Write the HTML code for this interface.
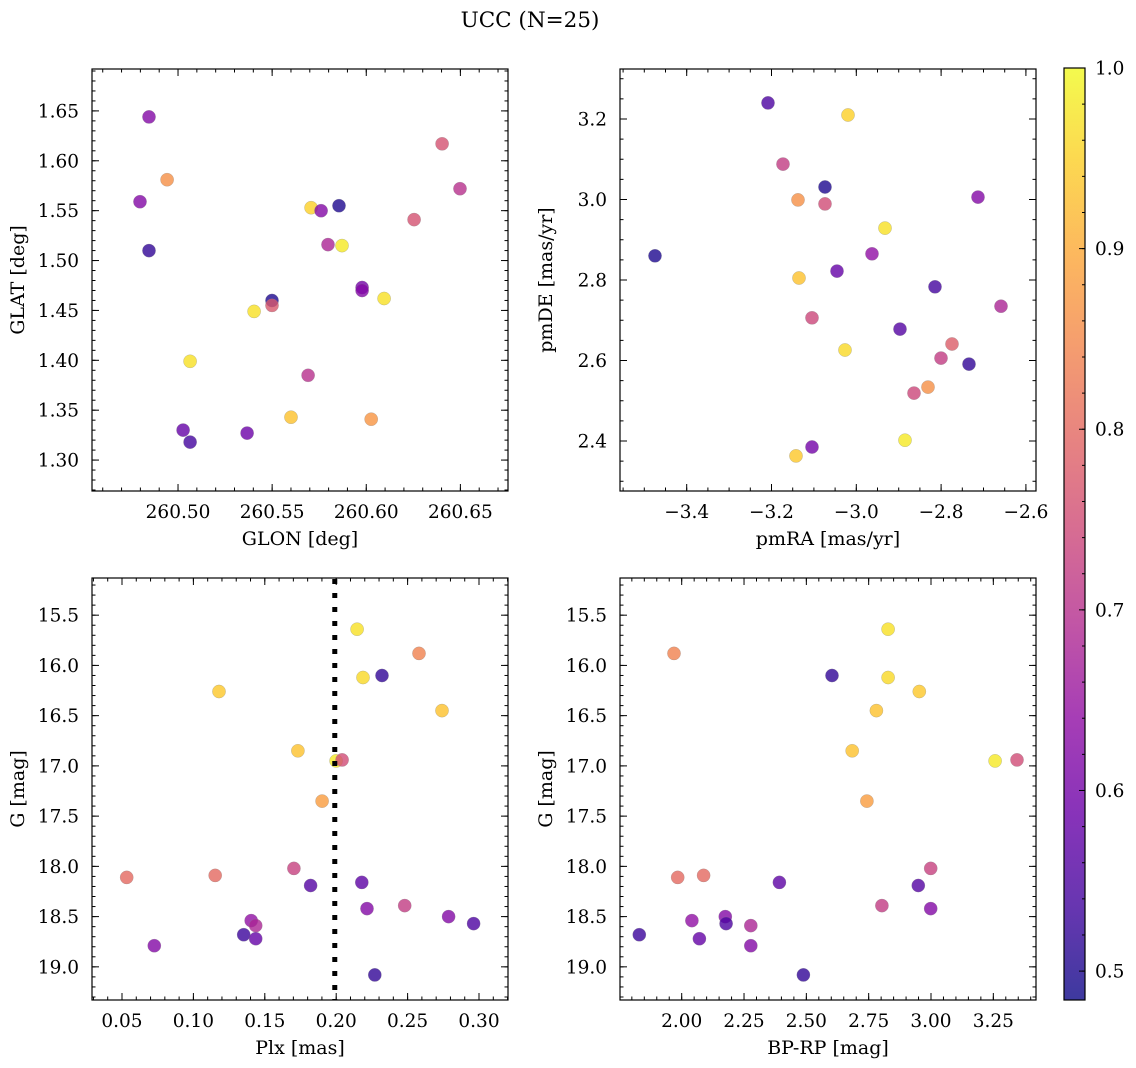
<!DOCTYPE html>
<html><head><meta charset="utf-8"><style>
html,body{margin:0;padding:0;background:#fff;}
svg{display:block;font-family:"DejaVu Serif","Liberation Serif",serif;}
</style></head><body>
<svg id="fig" width="1136" height="1068" viewBox="0 0 1136 1068" xmlns="http://www.w3.org/2000/svg">
<defs>
<linearGradient id="cbgrad" x1="0" y1="1" x2="0" y2="0">
<stop offset="0" stop-color="#0d0887"/><stop offset="0.1" stop-color="#41049d"/><stop offset="0.2" stop-color="#6a00a8"/><stop offset="0.3" stop-color="#8f0da4"/><stop offset="0.4" stop-color="#b12a90"/><stop offset="0.5" stop-color="#cc4778"/><stop offset="0.6" stop-color="#e16462"/><stop offset="0.7" stop-color="#f2844b"/><stop offset="0.8" stop-color="#fca636"/><stop offset="0.9" stop-color="#fcce25"/><stop offset="1" stop-color="#f0f921"/>
</linearGradient>
</defs>
<text x="530" y="27" font-size="21.5" text-anchor="middle" fill="#000">UCC (N=25)</text>
</svg>
<script>
const glon = [260.4846,260.4942,260.4798,260.4846,260.5064,260.5027,260.5064,260.5367,260.5404,260.5499,260.5499,260.5600,260.5691,260.5707,260.5760,260.5797,260.5855,260.5871,260.5978,260.5978,260.6026,260.6095,260.6254,260.6403,260.6498];
const glat = [1.644,1.581,1.559,1.510,1.399,1.330,1.318,1.327,1.449,1.460,1.455,1.343,1.385,1.553,1.550,1.516,1.555,1.515,1.473,1.470,1.341,1.462,1.541,1.617,1.572];
const probTL = [0.62,0.86,0.62,0.52,0.97,0.58,0.54,0.59,0.97,0.50,0.77,0.93,0.70,0.95,0.62,0.68,0.50,0.98,0.60,0.62,0.87,0.97,0.76,0.76,0.70];
const pmra = [-3.2083,-3.0196,-3.1729,-3.0738,-3.1375,-3.0738,-2.7130,-3.4748,-2.9323,-2.9630,-3.0455,-3.1351,-2.8144,-2.6587,-3.1045,-2.8969,-2.7743,-3.0267,-2.8002,-2.7342,-2.8309,-2.8639,-2.8851,-3.1045,-3.1422];
const pmde = [3.240,3.210,3.088,3.031,2.999,2.989,3.006,2.860,2.929,2.865,2.822,2.805,2.783,2.735,2.706,2.678,2.641,2.626,2.606,2.591,2.534,2.519,2.402,2.385,2.363];
const probTR = [0.55,0.95,0.72,0.50,0.86,0.75,0.62,0.50,0.97,0.64,0.58,0.93,0.54,0.68,0.74,0.56,0.78,0.96,0.72,0.52,0.86,0.74,0.98,0.60,0.94];
const plx = [0.2146,0.2580,0.2188,0.2321,0.1179,0.2741,0.1732,0.1999,0.2041,0.1901,0.0533,0.1153,0.1704,0.1821,0.2179,0.2216,0.2480,0.2787,0.2962,0.1405,0.1436,0.1352,0.1436,0.0726,0.2270];
const gmag = [15.64,15.88,16.12,16.10,16.26,16.45,16.85,16.95,16.94,17.35,18.11,18.09,18.02,18.19,18.16,18.42,18.39,18.50,18.57,18.54,18.59,18.68,18.72,18.79,19.08];
const bprp = [2.828,1.969,2.828,2.603,2.953,2.781,2.684,3.257,3.345,2.743,1.984,2.088,2.999,2.949,2.392,2.999,2.803,2.175,2.178,2.041,2.277,1.830,2.071,2.277,2.488];
const probB = [0.97,0.84,0.96,0.52,0.94,0.93,0.93,0.98,0.75,0.88,0.80,0.80,0.73,0.56,0.57,0.62,0.72,0.62,0.55,0.64,0.68,0.53,0.58,0.62,0.52];
const plxLine = 0.199;
const tlXTicks = ["260.50","260.55","260.60","260.65"];
const tlYTicks = ["1.30","1.35","1.40","1.45","1.50","1.55","1.60","1.65"];
const trXTicks = ["-3.4","-3.2","-3.0","-2.8","-2.6"];
const trYTicks = ["2.4","2.6","2.8","3.0","3.2"];
const blXTicks = ["0.05","0.10","0.15","0.20","0.25","0.30"];
const gTicks = ["15.5","16.0","16.5","17.0","17.5","18.0","18.5","19.0"];
const brXTicks = ["2.00","2.25","2.50","2.75","3.00","3.25"];
const cbTicks = ["0.5","0.6","0.7","0.8","0.9","1.0"];
const cbMin = 0.484, cbMax = 1.0;

const NS = "http://www.w3.org/2000/svg";
const svg = document.getElementById('fig');
const TFS = 18.5, LFS = 19;
function mk(tag, attrs, parent){const e=document.createElementNS(NS,tag);for(const k in attrs)e.setAttribute(k,attrs[k]);(parent||svg).appendChild(e);return e;}
const stops=[[13,8,135],[65,4,157],[106,0,168],[143,13,164],[177,42,144],[204,71,120],[225,100,98],[242,132,75],[252,166,54],[252,206,37],[240,249,33]];
function plasma(v){let t=(v-cbMin)/(cbMax-cbMin);t=Math.max(0,Math.min(1,t))*10;const i=Math.min(9,Math.floor(t)),f=t-i;const a=stops[i],b=stops[i+1];return 'rgb('+a.map((c,k)=>Math.round(c+(b[k]-c)*f)).join(',')+')';}

function panel(name,L,T,R,B,xr,yr,xTicks,yTicks,xMinor,yMinor,xLabel,yLabel,xs,ys,ps,yInv){
  const g=mk('g',{});
  
  
  const sx=v=>L+(v-xr[0])/(xr[1]-xr[0])*(R-L);
  const sy=v=>yInv? T+(v-yr[0])/(yr[1]-yr[0])*(B-T) : B-(v-yr[0])/(yr[1]-yr[0])*(B-T);
  const pts=mk('g',{},g);
  
  
  for(let i=0;i<xs.length;i++){
    const c=mk('circle',{cx:sx(xs[i]).toFixed(1),cy:sy(ys[i]).toFixed(1),r:6.6,fill:plasma(ps[i]),'fill-opacity':0.8,stroke:'#888','stroke-opacity':0.5,'stroke-width':0.5},pts);
    
    
  }
  const tk=mk('g',{stroke:'#000','stroke-width':1},g);
  
  
  function minors(r,step,fn){const s=Math.ceil(r[0]/step-1e-6);for(let k=s;k*step<=r[1]+1e-9;k++)fn(k*step);}
  minors(xr,xMinor,v=>{const x=sx(v);mk('line',{x1:x,y1:B,x2:x,y2:B-3.5},tk);mk('line',{x1:x,y1:T,x2:x,y2:T+3.5},tk);});
  minors(yr,yMinor,v=>{const y=sy(v);mk('line',{x1:L,y1:y,x2:L+3.5,y2:y},tk);mk('line',{x1:R,y1:y,x2:R-3.5,y2:y},tk);});
  xTicks.forEach(s=>{const x=sx(parseFloat(s));mk('line',{x1:x,y1:B,x2:x,y2:B-7},tk);mk('line',{x1:x,y1:T,x2:x,y2:T+7},tk);
    const t=mk('text',{x:x,y:B+27,'font-size':TFS,'text-anchor':'middle',fill:'#000'},g);t.textContent=s.replace('-','\u2212');
    
    });
  yTicks.forEach(s=>{const y=sy(parseFloat(s));mk('line',{x1:L,y1:y,x2:L+7,y2:y},tk);mk('line',{x1:R,y1:y,x2:R-7,y2:y},tk);
    const t=mk('text',{x:L-13,y:y+6.5,'font-size':TFS,'text-anchor':'end',fill:'#000'},g);t.textContent=s;
    
    });
  const fr=mk('rect',{x:L,y:T,width:R-L,height:B-T,fill:'none',stroke:'#000','stroke-width':1.2},g);
  
  
  const xl=mk('text',{x:(L+R)/2,y:B+54,'font-size':LFS,'text-anchor':'middle',fill:'#000'},g);xl.textContent=xLabel;
  
  
  const yl=mk('text',{x:0,y:0,'font-size':LFS,'text-anchor':'middle',fill:'#000',transform:'translate('+(L-68)+','+((T+B)/2)+') rotate(-90)'},g);yl.textContent=yLabel;
  
  
  return {sx,sy,g};
}
panel('glon-glat-panel',92,69,508,491,[260.4543,260.6753],[1.269,1.692],tlXTicks,tlYTicks,0.01,0.01,'GLON [deg]','GLAT [deg]',glon,glat,probTL,false);
panel('pm-panel',620,69,1036,491,[-3.5573,-2.5762],[2.2758,3.3242],trXTicks,trYTicks,0.05,0.05,'pmRA [mas/yr]','pmDE [mas/yr]',pmra,pmde,probTR,false);
const bl=panel('plx-g-panel',92,578,508,1000,[0.029,0.3203],[15.13,19.33],blXTicks,gTicks,0.01,0.1,'Plx [mas]','G [mag]',plx,gmag,probB,true);
panel('cmd-panel',620,578,1036,1000,[1.7525,3.4212],[15.13,19.33],brXTicks,gTicks,0.05,0.1,'BP-RP [mag]','G [mag]',bprp,gmag,probB,true);
const vx=bl.sx(plxLine);
const vl=mk('line',{x1:vx,y1:579,x2:vx,y2:1000,stroke:'#000','stroke-width':5,'stroke-dasharray':'5 9'},bl.g);


// colorbar
const cb=mk('g',{});


const CT=68,CB=1000,CL=1064,CR=1085;
const cy=v=>CB-(v-cbMin)/(cbMax-cbMin)*(CB-CT);
mk('rect',{x:CL,y:CT,width:CR-CL,height:CB-CT,fill:'url(#cbgrad)','fill-opacity':0.8},cb);
for(let k=25;k<=50;k++){const v=k*0.02;if(v<cbMin)continue;const y=cy(v);mk('line',{x1:CR,y1:y,x2:CR-3,y2:y,stroke:'#000'},cb);}
cbTicks.forEach(s=>{const y=cy(parseFloat(s));mk('line',{x1:CR,y1:y,x2:CR-6,y2:y,stroke:'#000'},cb);
  const t=mk('text',{x:CR+10,y:y+6.5,'font-size':TFS,fill:'#000'},cb);t.textContent=s;
  
  });
mk('rect',{x:CL,y:CT,width:CR-CL,height:CB-CT,fill:'none',stroke:'#000','stroke-width':1.2},cb);
</script>
</body></html>
